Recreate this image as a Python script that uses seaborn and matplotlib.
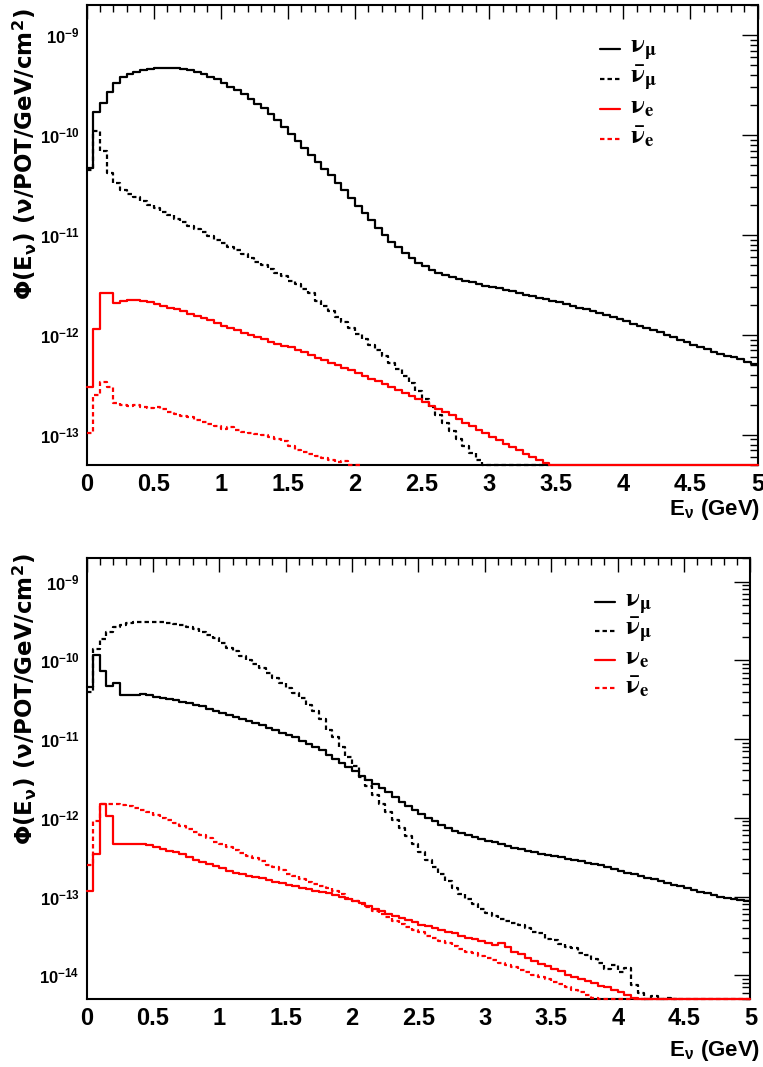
import numpy as np
import matplotlib
matplotlib.use("Agg")
import matplotlib.pyplot as plt
import matplotlib.ticker as mticker
from matplotlib.lines import Line2D
import seaborn as sns

# ---------------- data (flux per 0.05 GeV bin, 0..5 GeV) ----------------
bin_edges = np.round(np.linspace(0.0, 5.0, 101), 3)

top_numu = [4.7e-11, 1.7e-10, 2.1e-10, 2.7e-10, 3.3e-10, 3.8e-10, 4.1e-10, 4.3e-10, 4.45e-10, 4.55e-10,
            4.65e-10, 4.7e-10, 4.7e-10, 4.65e-10, 4.6e-10, 4.5e-10, 4.25e-10, 4.05e-10, 3.85e-10, 3.6e-10,
            3.3e-10, 3.05e-10, 2.8e-10, 2.55e-10, 2.3e-10, 2.05e-10, 1.85e-10, 1.62e-10, 1.4e-10, 1.2e-10,
            1.02e-10, 8.7e-11, 7.4e-11, 6.3e-11, 5.4e-11, 4.6e-11, 3.95e-11, 3.3e-11, 2.8e-11, 2.35e-11,
            1.95e-11, 1.65e-11, 1.4e-11, 1.18e-11, 1.0e-11, 8.6e-12, 7.5e-12, 6.6e-12, 5.9e-12, 5.3e-12,
            4.85e-12, 4.5e-12, 4.2e-12, 4.0e-12, 3.8e-12, 3.65e-12, 3.5e-12, 3.38e-12, 3.25e-12, 3.12e-12,
            3.02e-12, 2.93e-12, 2.83e-12, 2.73e-12, 2.63e-12, 2.53e-12, 2.43e-12, 2.35e-12, 2.28e-12, 2.2e-12,
            2.13e-12, 2.06e-12, 1.97e-12, 1.88e-12, 1.8e-12, 1.72e-12, 1.65e-12, 1.58e-12, 1.51e-12, 1.44e-12,
            1.37e-12, 1.3e-12, 1.24e-12, 1.18e-12, 1.12e-12, 1.06e-12, 1.0e-12, 9.5e-13, 9.0e-13, 8.5e-13,
            8.0e-13, 7.6e-13, 7.2e-13, 6.8e-13, 6.5e-13, 6.2e-13, 6.0e-13, 5.7e-13, 5.4e-13, 5.1e-13]

top_numubar = [4.5e-11, 1.1e-10, 7.0e-11, 4.2e-11, 3.3e-11, 2.85e-11, 2.6e-11, 2.4e-11, 2.2e-11, 2.0e-11,
               1.85e-11, 1.7e-11, 1.58e-11, 1.46e-11, 1.35e-11, 1.24e-11, 1.15e-11, 1.06e-11, 9.8e-12, 9.0e-12,
               8.3e-12, 7.6e-12, 7.0e-12, 6.4e-12, 5.9e-12, 5.4e-12, 5.0e-12, 4.6e-12, 4.2e-12, 3.85e-12,
               3.5e-12, 3.2e-12, 2.9e-12, 2.6e-12, 2.2e-12, 1.95e-12, 1.72e-12, 1.52e-12, 1.35e-12, 1.18e-12,
               1.03e-12, 9.2e-13, 8.0e-13, 7.0e-13, 6.1e-13, 5.3e-13, 4.6e-13, 3.9e-13, 3.3e-13, 2.75e-13,
               2.3e-13, 1.9e-13, 1.6e-13, 1.32e-13, 1.1e-13, 9.2e-14, 7.8e-14, 6.6e-14, 5.6e-14, 4.6e-14,
               3.8e-14, 3.3e-14, 2.8e-14, 2.4e-14, 2.0e-14, 1.7e-14, 1.4e-14, 1.2e-14, 1.0e-14, 0.0,
               0.0, 0.0, 0.0, 0.0, 0.0, 0.0, 0.0, 0.0, 0.0, 0.0,
               0.0, 0.0, 0.0, 0.0, 0.0, 0.0, 0.0, 0.0, 0.0, 0.0,
               0.0, 0.0, 0.0, 0.0, 0.0, 0.0, 0.0, 0.0, 0.0, 0.0]

top_nue = [3.0e-13, 1.15e-12, 2.6e-12, 2.6e-12, 2.1e-12, 2.2e-12, 2.25e-12, 2.25e-12, 2.2e-12, 2.15e-12,
           2.05e-12, 1.95e-12, 1.87e-12, 1.8e-12, 1.72e-12, 1.63e-12, 1.55e-12, 1.47e-12, 1.4e-12, 1.32e-12,
           1.24e-12, 1.17e-12, 1.11e-12, 1.05e-12, 1.0e-12, 9.6e-13, 9.1e-13, 8.6e-13, 8.1e-13, 7.8e-13,
           7.5e-13, 7.1e-13, 6.7e-13, 6.3e-13, 5.9e-13, 5.6e-13, 5.3e-13, 5.0e-13, 4.7e-13, 4.45e-13,
           4.2e-13, 3.9e-13, 3.65e-13, 3.45e-13, 3.2e-13, 3.0e-13, 2.8e-13, 2.6e-13, 2.45e-13, 2.28e-13,
           2.12e-13, 1.95e-13, 1.82e-13, 1.7e-13, 1.57e-13, 1.45e-13, 1.33e-13, 1.22e-13, 1.13e-13, 1.04e-13,
           9.6e-14, 8.9e-14, 8.2e-14, 7.6e-14, 7.0e-14, 6.5e-14, 6.0e-14, 5.6e-14, 5.2e-14, 4.8e-14,
           4.4e-14, 4.1e-14, 3.8e-14, 3.5e-14, 3.3e-14, 3.0e-14, 2.8e-14, 2.6e-14, 2.4e-14, 2.2e-14,
           2.0e-14, 1.9e-14, 1.7e-14, 1.6e-14, 1.5e-14, 1.4e-14, 1.3e-14, 1.2e-14, 1.1e-14, 1.0e-14,
           9.4e-15, 8.8e-15, 8.2e-15, 7.7e-15, 7.2e-15, 6.7e-15, 6.3e-15, 5.9e-15, 5.5e-15, 5.1e-15]

top_nuebar = [1.05e-13, 2.5e-13, 3.4e-13, 3.0e-13, 2.1e-13, 2.0e-13, 1.95e-13, 2.0e-13, 1.9e-13, 1.85e-13,
              1.9e-13, 1.8e-13, 1.7e-13, 1.62e-13, 1.55e-13, 1.5e-13, 1.42e-13, 1.35e-13, 1.3e-13, 1.22e-13,
              1.15e-13, 1.2e-13, 1.12e-13, 1.07e-13, 1.04e-13, 1.02e-13, 1.0e-13, 9.6e-14, 9.0e-14, 8.6e-14,
              7.8e-14, 7.1e-14, 6.8e-14, 6.5e-14, 6.2e-14, 5.9e-14, 5.6e-14, 5.3e-14, 5.5e-14, 4.9e-14,
              4.6e-14, 0.0, 0.0, 0.0, 0.0, 0.0, 0.0, 0.0, 0.0, 0.0,
              0.0, 0.0, 0.0, 0.0, 0.0, 0.0, 0.0, 0.0, 0.0, 0.0,
              0.0, 0.0, 0.0, 0.0, 0.0, 0.0, 0.0, 0.0, 0.0, 0.0,
              0.0, 0.0, 0.0, 0.0, 0.0, 0.0, 0.0, 0.0, 0.0, 0.0,
              0.0, 0.0, 0.0, 0.0, 0.0, 0.0, 0.0, 0.0, 0.0, 0.0,
              0.0, 0.0, 0.0, 0.0, 0.0, 0.0, 0.0, 0.0, 0.0, 0.0]

bot_numu = [4.6e-11, 1.18e-10, 7.4e-11, 4.7e-11, 5.2e-11, 3.6e-11, 3.6e-11, 3.65e-11, 3.7e-11, 3.6e-11,
            3.45e-11, 3.35e-11, 3.25e-11, 3.15e-11, 3.0e-11, 2.9e-11, 2.75e-11, 2.6e-11, 2.45e-11, 2.3e-11,
            2.15e-11, 2.0e-11, 1.9e-11, 1.8e-11, 1.7e-11, 1.6e-11, 1.5e-11, 1.4e-11, 1.3e-11, 1.2e-11,
            1.12e-11, 1.05e-11, 9.6e-12, 8.8e-12, 8.0e-12, 7.2e-12, 6.3e-12, 5.6e-12, 5.0e-12, 4.4e-12,
            3.9e-12, 3.45e-12, 3.05e-12, 2.7e-12, 2.4e-12, 2.1e-12, 1.85e-12, 1.6e-12, 1.42e-12, 1.25e-12,
            1.12e-12, 1.0e-12, 9.0e-13, 8.2e-13, 7.5e-13, 6.9e-13, 6.5e-13, 6.1e-13, 5.7e-13, 5.4e-13,
            5.1e-13, 4.9e-13, 4.6e-13, 4.4e-13, 4.2e-13, 4.0e-13, 3.8e-13, 3.65e-13, 3.5e-13, 3.35e-13,
            3.25e-13, 3.15e-13, 3.0e-13, 2.9e-13, 2.8e-13, 2.7e-13, 2.6e-13, 2.5e-13, 2.35e-13, 2.25e-13,
            2.12e-13, 2.02e-13, 1.92e-13, 1.83e-13, 1.74e-13, 1.66e-13, 1.58e-13, 1.5e-13, 1.42e-13, 1.35e-13,
            1.28e-13, 1.22e-13, 1.16e-13, 1.1e-13, 1.05e-13, 1.0e-13, 9.7e-14, 9.4e-14, 9.1e-14, 8.8e-14]

bot_numubar = [4.0e-11, 1.4e-10, 1.85e-10, 2.3e-10, 2.65e-10, 2.85e-10, 3.0e-10, 3.1e-10, 3.12e-10, 3.12e-10,
               3.1e-10, 3.05e-10, 3.0e-10, 2.9e-10, 2.8e-10, 2.65e-10, 2.5e-10, 2.3e-10, 2.1e-10, 1.9e-10,
               1.65e-10, 1.45e-10, 1.3e-10, 1.15e-10, 1.0e-10, 9.0e-11, 8.0e-11, 7.0e-11, 6.0e-11, 5.2e-11,
               4.5e-11, 3.9e-11, 3.3e-11, 2.75e-11, 2.25e-11, 1.8e-11, 1.3e-11, 1.05e-11, 8.0e-12, 6.0e-12,
               4.5e-12, 3.3e-12, 2.55e-12, 1.95e-12, 1.5e-12, 1.18e-12, 9.3e-13, 7.4e-13, 5.9e-13, 4.7e-13,
               3.7e-13, 2.95e-13, 2.4e-13, 1.95e-13, 1.6e-13, 1.3e-13, 1.08e-13, 9.2e-14, 8.0e-14, 7.0e-14,
               6.2e-14, 5.6e-14, 5.2e-14, 4.9e-14, 4.6e-14, 4.3e-14, 4.0e-14, 3.6e-14, 3.4e-14, 2.9e-14,
               2.8e-14, 2.5e-14, 2.3e-14, 2.2e-14, 1.9e-14, 1.8e-14, 1.6e-14, 1.45e-14, 1.2e-14, 1.35e-14,
               1.1e-14, 1.25e-14, 7.5e-15, 6.0e-15, 4.5e-15, 5.5e-15, 4.0e-15, 5.2e-15, 3.0e-15, 0.0,
               0.0, 0.0, 0.0, 0.0, 0.0, 0.0, 0.0, 0.0, 0.0, 0.0]

bot_nue = [1.17e-13, 3.5e-13, 1.5e-12, 1.07e-12, 4.6e-13, 4.6e-13, 4.7e-13, 4.7e-13, 4.6e-13, 4.5e-13,
           4.3e-13, 4.0e-13, 3.8e-13, 3.65e-13, 3.45e-13, 3.2e-13, 2.95e-13, 2.75e-13, 2.6e-13, 2.45e-13,
           2.3e-13, 2.1e-13, 2.0e-13, 1.95e-13, 1.85e-13, 1.78e-13, 1.7e-13, 1.62e-13, 1.55e-13, 1.48e-13,
           1.42e-13, 1.38e-13, 1.3e-13, 1.24e-13, 1.18e-13, 1.13e-13, 1.1e-13, 1.04e-13, 9.8e-14, 9.3e-14,
           8.9e-14, 8.2e-14, 7.6e-14, 7.0e-14, 6.5e-14, 6.0e-14, 5.6e-14, 5.3e-14, 5.0e-14, 4.7e-14,
           4.4e-14, 4.2e-14, 4.0e-14, 3.8e-14, 3.6e-14, 3.4e-14, 3.2e-14, 3.0e-14, 2.85e-14, 2.7e-14,
           2.55e-14, 2.45e-14, 2.6e-14, 2.3e-14, 2.0e-14, 1.85e-14, 1.65e-14, 1.5e-14, 1.4e-14, 1.3e-14,
           1.2e-14, 1.12e-14, 1.02e-14, 9.5e-15, 9.0e-15, 8.4e-15, 8.0e-15, 7.4e-15, 7.0e-15, 6.5e-15,
           6.2e-15, 5.6e-15, 5.2e-15, 4.8e-15, 4.5e-15, 4.2e-15, 3.9e-15, 3.6e-15, 3.4e-15, 3.2e-15,
           3.0e-15, 2.8e-15, 2.6e-15, 2.4e-15, 2.2e-15, 2.1e-15, 2.0e-15, 1.9e-15, 1.8e-15, 1.7e-15]

bot_nuebar = [2.5e-13, 9.0e-13, 1.5e-12, 1.5e-12, 1.48e-12, 1.45e-12, 1.4e-12, 1.33e-12, 1.25e-12, 1.17e-12,
              1.08e-12, 1.0e-12, 9.3e-13, 8.6e-13, 7.9e-13, 7.2e-13, 6.6e-13, 6.0e-13, 5.5e-13, 5.0e-13,
              4.6e-13, 4.3e-13, 3.95e-13, 3.6e-13, 3.3e-13, 3.05e-13, 2.8e-13, 2.55e-13, 2.35e-13, 2.15e-13,
              1.95e-13, 1.8e-13, 1.68e-13, 1.55e-13, 1.45e-13, 1.35e-13, 1.28e-13, 1.18e-13, 1.07e-13, 9.7e-14,
              8.8e-14, 8.0e-14, 7.3e-14, 6.6e-14, 6.0e-14, 5.5e-14, 4.9e-14, 4.5e-14, 4.1e-14, 3.8e-14,
              3.5e-14, 3.2e-14, 2.95e-14, 2.75e-14, 2.55e-14, 2.35e-14, 2.15e-14, 2.0e-14, 1.9e-14, 1.78e-14,
              1.65e-14, 1.55e-14, 1.45e-14, 1.36e-14, 1.27e-14, 1.18e-14, 1.1e-14, 1.02e-14, 9.5e-15, 8.9e-15,
              8.3e-15, 7.8e-15, 7.2e-15, 6.6e-15, 6.1e-15, 5.6e-15, 5.2e-15, 4.8e-15, 4.4e-15, 4.0e-15,
              3.7e-15, 3.4e-15, 3.1e-15, 2.9e-15, 2.7e-15, 2.5e-15, 2.3e-15, 2.1e-15, 1.9e-15, 1.8e-15,
              1.7e-15, 1.6e-15, 1.5e-15, 1.4e-15, 1.3e-15, 1.2e-15, 1.1e-15, 1.0e-15, 9.0e-16, 8.0e-16]

legend_labels = [r"$\mathrm{\nu}_{\mathrm{\mu}}$", r"$\bar{\mathrm{\nu}}_{\mathrm{\mu}}$",
                 r"$\mathrm{\nu}_{\mathrm{e}}$", r"$\bar{\mathrm{\nu}}_{\mathrm{e}}$"]
series_colors = ["black", "black", "#ff0000", "#ff0000"]
series_dashed = [False, True, False, True]
x_ticklabels = ["0", "0.5", "1", "1.5", "2", "2.5", "3", "3.5", "4", "4.5", "5"]
ylabel_text = r"Φ(E$_{\mathdefault{ν}}$) (ν/POT/GeV/cm$^{\mathdefault{2}}$)"
xlabel_text = r"E$_{\mathdefault{ν}}$ (GeV)"

# ---------------- style ----------------
sns.set_style("white")
plt.rcParams["font.family"] = ["Liberation Sans", "DejaVu Sans"]
plt.rcParams["font.weight"] = "bold"
plt.rcParams["mathtext.fontset"] = "stix"
plt.rcParams["lines.scale_dashes"] = False
for k in ["text.color", "axes.labelcolor", "xtick.color", "ytick.color", "axes.edgecolor"]:
    plt.rcParams[k] = "black"

W, H = 763, 1067
fig = plt.figure(figsize=(W / 100, H / 100), dpi=100)
fig.patch.set_facecolor("white")

panels = [
    dict(left=86.5, right=757.5, top=5, bottom=465, ylim=(5e-14, 2e-9), ydec=[-13, -12, -11, -10, -9],
         data=[top_numu, top_numubar, top_nue, top_nuebar],
         leg_line=(600, 620), leg_text=630, leg_y0=48.5, leg_dy=30.0, xlab_y=497, ylab_top=8),
    dict(left=86.5, right=750.5, top=558, bottom=999, ylim=(5e-15, 2e-9), ydec=[-14, -13, -12, -11, -10, -9],
         data=[bot_numu, bot_numubar, bot_nue, bot_nuebar],
         leg_line=(595, 615), leg_text=625, leg_y0=602, leg_dy=28.8, xlab_y=1038, ylab_top=553),
]

dash_pattern = (0, (3.2, 2.2))
LW = 1.6

for p in panels:
    ax = fig.add_axes([p["left"] / W, 1 - p["bottom"] / H,
                       (p["right"] - p["left"]) / W, (p["bottom"] - p["top"]) / H])
    ymin, ymax = p["ylim"]
    for vals, col, dsh in zip(p["data"], series_colors, series_dashed):
        v = np.asarray(vals, dtype=float)
        nz = np.nonzero(v > 0)[0]
        n = nz[-1] + 1
        xs = bin_edges[:n + 1]
        ys = np.clip(v[:n], ymin, None)
        ys = np.append(ys, ys[-1])
        sns.lineplot(x=xs, y=ys, ax=ax, color=col, linewidth=LW, drawstyle="steps-post",
                     estimator=None, sort=False, legend=False, clip_on=False, zorder=3)
        if dsh:
            ax.lines[-1].set_linestyle(dash_pattern)
    ax.set_yscale("log")
    ax.set_xlim(0, 5)
    ax.set_ylim(ymin, ymax)

    ax.xaxis.set_major_locator(mticker.FixedLocator(np.arange(0, 5.01, 0.5)))
    ax.xaxis.set_major_formatter(mticker.FixedFormatter(x_ticklabels))
    ax.xaxis.set_minor_locator(mticker.MultipleLocator(0.1))
    ax.yaxis.set_major_locator(mticker.FixedLocator([10.0 ** d for d in p["ydec"]]))
    ax.yaxis.set_major_formatter(mticker.LogFormatterSciNotation())
    ax.yaxis.set_minor_locator(mticker.LogLocator(base=10, subs=np.arange(2, 10), numticks=30))
    ax.yaxis.set_minor_formatter(mticker.NullFormatter())

    ax.tick_params(which="both", direction="in", top=True, right=True,
                   labeltop=False, labelright=False, width=1.0, color="black")
    ax.tick_params(axis="x", which="major", length=10, pad=6, labelsize=17)
    ax.tick_params(axis="x", which="minor", length=5)
    ax.tick_params(axis="y", which="major", length=11.5, pad=5, labelsize=12)
    ax.tick_params(axis="y", which="minor", length=6)
    for s in ax.spines.values():
        s.set_linewidth(1.5)
        s.set_color("black")
        s.set_zorder(2.5)
    ax.grid(False)

    aw = p["right"] - p["left"]
    ah = p["bottom"] - p["top"]
    ax.set_ylabel(ylabel_text, fontsize=16.5, fontweight="bold", loc="top",
                  family=["DejaVu Sans"])
    ax.yaxis.set_label_coords((39 - p["left"]) / aw, (p["bottom"] - p["ylab_top"]) / ah)
    ax.set_xlabel(xlabel_text, fontsize=16, fontweight="bold", loc="right")
    ax.xaxis.set_label_coords((760 - p["left"]) / aw, (p["bottom"] - p["xlab_y"]) / ah)

    # legend (ROOT-style, no frame)
    for i, (lab, col, dsh) in enumerate(zip(legend_labels, series_colors, series_dashed)):
        ypix = p["leg_y0"] + i * p["leg_dy"]
        yfrac = (p["bottom"] - ypix) / ah
        x0 = (p["leg_line"][0] - p["left"]) / aw
        x1 = (p["leg_line"][1] - p["left"]) / aw
        ln = Line2D([x0, x1], [yfrac, yfrac], transform=ax.transAxes, color=col,
                    linewidth=LW, linestyle=dash_pattern if dsh else "-")
        ax.add_line(ln)
        ax.text((p["leg_text"] - p["left"]) / aw, yfrac - 5.0 / ah, lab, transform=ax.transAxes,
                fontsize=19, fontweight="normal", ha="left", va="baseline", color="black")

fig.savefig("out.png", dpi=100, facecolor="white")
